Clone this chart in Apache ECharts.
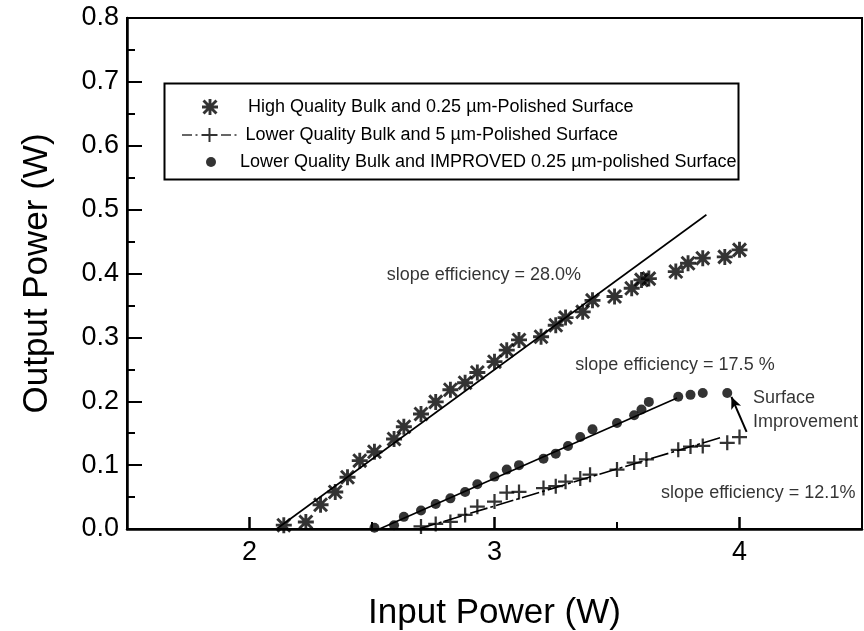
<!DOCTYPE html>
<html>
<head>
<meta charset="utf-8">
<script src="https://cdn.jsdelivr.net/npm/echarts@6/dist/echarts.min.js"></script>
<style>html,body{margin:0;padding:0;background:#fff}#c{width:864px;height:631px}</style>
</head>
<body>
<div id="c"></div>
<script>
// ---- data ----
const seriesNames = [
  'High Quality Bulk and 0.25 \u00b5m-Polished Surface',
  'Lower Quality Bulk and 5 \u00b5m-Polished Surface',
  'Lower Quality Bulk and IMPROVED 0.25 \u00b5m-polished Surface'
];
const starX = [2.14, 2.23, 2.29, 2.35, 2.40, 2.45, 2.51, 2.59, 2.63, 2.70, 2.76, 2.82, 2.88, 2.93, 3.00, 3.05, 3.10, 3.19, 3.25, 3.29, 3.36, 3.40, 3.49, 3.56, 3.60, 3.63, 3.74, 3.79, 3.85, 3.94, 4.00];
const starY = [0.006, 0.011, 0.038, 0.058, 0.081, 0.107, 0.121, 0.141, 0.160, 0.180, 0.199, 0.218, 0.229, 0.245, 0.262, 0.280, 0.296, 0.301, 0.319, 0.331, 0.340, 0.358, 0.364, 0.377, 0.390, 0.392, 0.403, 0.416, 0.424, 0.426, 0.437];
const crossX = [2.70, 2.76, 2.82, 2.88, 2.93, 3.00, 3.05, 3.10, 3.20, 3.25, 3.29, 3.35, 3.39, 3.50, 3.57, 3.62, 3.75, 3.80, 3.85, 3.95, 4.00];
const crossY = [0.004, 0.008, 0.011, 0.022, 0.035, 0.043, 0.057, 0.058, 0.064, 0.067, 0.074, 0.079, 0.085, 0.093, 0.104, 0.109, 0.124, 0.129, 0.130, 0.135, 0.144];
const dotX = [2.51, 2.59, 2.63, 2.70, 2.76, 2.82, 2.88, 2.93, 3.00, 3.05, 3.10, 3.20, 3.25, 3.30, 3.35, 3.40, 3.50, 3.57, 3.60, 3.63, 3.75, 3.80, 3.85, 3.95];
const dotY = [0.002, 0.006, 0.019, 0.029, 0.039, 0.048, 0.058, 0.070, 0.082, 0.093, 0.100, 0.110, 0.118, 0.130, 0.144, 0.156, 0.166, 0.178, 0.187, 0.199, 0.207, 0.210, 0.213, 0.213];
const fitHighX = [2.11, 3.865], fitHighY = [0, 0.492];
const fitLowX = [2.69, 3.93], fitLowY = [0, 0.144];
const fitImpX = [2.53, 3.745], fitImpY = [0, 0.205];
const xTickLabels = [2, 3, 4];
const xMinorTicks = [2.5, 3.5];
const noteTexts = ['slope efficiency = 28.0%', 'slope efficiency = 17.5 %', 'slope efficiency = 12.1%', 'Surface\nImprovement'];
const xTitle = 'Input Power (W)', yTitle = 'Output Power (W)';

const pts = (xs, ys) => xs.map((x, i) => [x, ys[i]]);

const STAR = 'path://M8.2 0H11.8V20H8.2Z M0 8.2H20V11.8H0Z M0.6 3.2L3.2 0.6L19.4 16.8L16.8 19.4Z M16.8 0.6L19.4 3.2L3.2 19.4L0.6 16.8Z';
const PLUS = 'path://M0 8.5H20V11.5H0Z M8.5 0H11.5V20H8.5Z';
const DASHPLUS = 'path://M0 6.3H10V7.7H0Z M13.5 6.3H15.5V7.7H13.5Z M19.5 6H35.5V8H19.5Z M26.5 0H28.5V14H26.5Z M39 6.3H49V7.7H39Z M52.5 6.3H54.5V7.7H52.5Z';

const FONT = 'Liberation Sans';
const chart = echarts.init(document.getElementById('c'));
const legendText = {fontSize: 18, color: '#000', fontFamily: FONT};

chart.setOption({
  animation: false,
  backgroundColor: '#fff',
  grid: {left: 127, right: 2, top: 18, bottom: 102, show: true, borderColor: '#000', borderWidth: 2,
         containLabel: false, outerBoundsMode: 'none'},
  legend: [
    {data: [seriesNames[0]], left: 197, top: 93, itemWidth: 16, itemHeight: 16, icon: STAR, selectedMode: false,
     textStyle: Object.assign({padding: [0, 0, 0, 25]}, legendText)},
    {data: [seriesNames[1]], left: 177, top: 121, itemWidth: 54.5, itemHeight: 14, icon: DASHPLUS, selectedMode: false,
     textStyle: Object.assign({padding: [0, 0, 0, 4]}, legendText)},
    {data: [seriesNames[2]], left: 201, top: 148, itemWidth: 10, itemHeight: 10, icon: 'circle', selectedMode: false,
     textStyle: Object.assign({padding: [0, 0, 0, 19]}, legendText)}
  ],
  graphic: [{type: 'rect', left: 162, top: 81, shape: {width: 574, height: 96}, style: {fill: 'none', stroke: '#000', lineWidth: 2}, z: 10}],
  xAxis: [
    {type: 'value', min: 1.5, max: 4.5, interval: 0.5,
     name: xTitle, nameLocation: 'middle', nameGap: 67,
     nameTextStyle: {fontSize: 35, color: '#000', fontFamily: FONT},
     axisLine: {lineStyle: {color: '#000', width: 2.5}},
     axisTick: {inside: true, length: 12, customValues: xTickLabels, lineStyle: {color: '#000', width: 2.5}},
     axisLabel: {customValues: xTickLabels, fontSize: 27, margin: 10, color: '#000', fontFamily: FONT,
                 formatter: v => Number.isInteger(v) ? String(v) : ''},
     splitLine: {show: false}},
    {type: 'value', min: 1.5, max: 4.5, interval: 0.5, position: 'bottom',
     axisLine: {show: false},
     axisTick: {inside: true, length: 7, customValues: xMinorTicks, lineStyle: {color: '#000', width: 2}},
     axisLabel: {show: false}, splitLine: {show: false}}
  ],
  yAxis: {type: 'value', min: 0, max: 0.8, interval: 0.1,
    name: yTitle, nameLocation: 'middle', nameGap: 72,
    nameTextStyle: {fontSize: 35, color: '#000', fontFamily: FONT},
    axisLine: {lineStyle: {color: '#000', width: 2.5}},
    axisTick: {inside: true, length: 15, lineStyle: {color: '#000', width: 2}},
    minorTick: {show: true, splitNumber: 2, length: 8, lineStyle: {color: '#000', width: 2}},
    axisLabel: {fontSize: 27, margin: 8, color: '#000', fontFamily: FONT, formatter: v => v.toFixed(1)},
    splitLine: {show: false}, minorSplitLine: {show: false}},
  series: [
    {name: seriesNames[0], type: 'scatter', data: pts(starX, starY), symbol: STAR, symbolSize: 16, itemStyle: {color: '#000'}, z: 5},
    {name: seriesNames[1], type: 'scatter', data: pts(crossX, crossY), symbol: PLUS, symbolSize: 15, itemStyle: {color: '#000'}, z: 5},
    {name: seriesNames[2], type: 'scatter', data: pts(dotX, dotY), symbol: 'circle', symbolSize: 10, itemStyle: {color: '#000'}, z: 5},
    {type: 'line', data: pts(fitHighX, fitHighY), showSymbol: false, silent: true, lineStyle: {color: '#000', width: 1.6}, z: 4},
    {type: 'line', data: pts(fitLowX, fitLowY), showSymbol: false, silent: true, lineStyle: {color: '#000', width: 1.6, type: [18, 3, 3, 3]}, z: 4},
    {type: 'line', data: pts(fitImpX, fitImpY), showSymbol: false, silent: true, lineStyle: {color: '#000', width: 1.6}, z: 4},
    {type: 'scatter', symbolSize: 0, silent: true, clip: false,
     data: [
       {name: noteTexts[0], value: [2.56, 0.398]},
       {name: noteTexts[1], value: [3.33, 0.257]},
       {name: noteTexts[2], value: [3.68, 0.056]},
       {name: noteTexts[3], value: [4.055, 0.186]}
     ],
     label: {show: true, position: 'right', distance: 0, formatter: '{b}', fontSize: 18, lineHeight: 24, color: '#000', fontFamily: FONT},
     markLine: {silent: true, symbol: ['none', 'arrow'], symbolSize: [8, 12], label: {show: false},
       lineStyle: {color: '#000', width: 2, type: 'solid'},
       data: [[{coord: [4.029, 0.152]}, {coord: [3.967, 0.207]}]]}}
  ]
});
</script>
</body>
</html>
